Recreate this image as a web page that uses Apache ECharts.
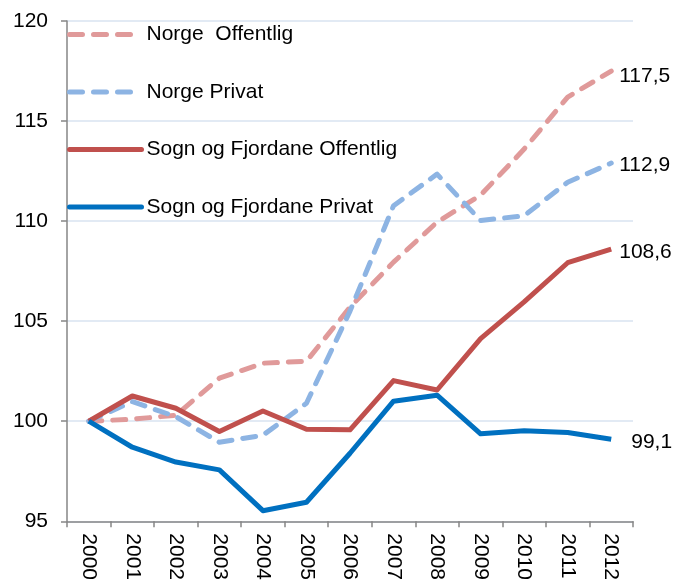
<!DOCTYPE html>
<html>
<head>
<meta charset="utf-8">
<script src="https://cdn.jsdelivr.net/npm/echarts@6/dist/echarts.min.js"></script>
<style>
  html, body { margin: 0; padding: 0; background: #fff; }
  #chart { width: 675px; height: 583px; }
</style>
</head>
<body>
<div id="chart"></div>
<script>
let years = ['2000', '2001', '2002', '2003', '2004', '2005', '2006', '2007', '2008', '2009', '2010', '2011', '2012'];
let seriesNames = ['Norge  Offentlig', 'Norge Privat', 'Sogn og Fjordane Offentlig', 'Sogn og Fjordane Privat'];

let norgeOffentlig = [100, 100.1, 100.3, 102.15, 102.9, 103.0, 105.7, 107.95, 109.95, 111.3, 113.6, 116.2, 117.5];
let norgePrivat = [100, 100.98, 100.23, 98.95, 99.3, 100.9, 105.5, 110.77, 112.35, 110.03, 110.27, 111.94, 112.9];
let sfOffentlig = [100, 101.26, 100.65, 99.49, 100.51, 99.6, 99.57, 102.03, 101.56, 104.13, 105.96, 107.92, 108.6];
let sfPrivat = [100, 98.7, 97.96, 97.57, 95.53, 95.95, 98.4, 101.0, 101.3, 99.37, 99.52, 99.44, 99.1];

let yMin = 95;
let yMax = 120;
let yStep = 5;

let FONT = 'Liberation Sans, Arial, sans-serif';
let FS = 21;

function makeSeries(name, values, color, dashed, labelOffset) {
	return {
		name: name,
		type: 'line',
		data: values,
		symbol: 'none',
		smooth: false,
		lineStyle: {
			color: color,
			width: 5,
			type: dashed ? [13, 11] : 'solid',
			cap: dashed ? 'round' : 'butt',
			join: 'round'
		},
		itemStyle: { color: color },
		endLabel: {
			show: true,
			distance: 8,
			offset: labelOffset,
			color: '#000',
			fontSize: FS,
			fontFamily: FONT,
			formatter: p => String(p.value).replace('.', ',')
		},
		emphasis: { disabled: true }
	};
}

let myChart = echarts.init(document.getElementById('chart'));

let option = {
	animation: false,
	backgroundColor: '#fff',
	grid: {
		left: 67,
		right: 42,
		top: 21,
		bottom: 60,
		containLabel: false
	},
	legend: {
		orient: 'vertical',
		left: 62,
		top: 19,
		itemWidth: 72,
		itemHeight: 14,
		itemGap: 36.5,
		itemStyle: { opacity: 0 },
		lineStyle: { width: 5, cap: 'round' },
		textStyle: {
			color: '#000',
			fontSize: FS,
			fontFamily: FONT
		},
		data: seriesNames
	},
	xAxis: {
		type: 'category',
		data: years,
		boundaryGap: true,
		axisLine: { lineStyle: { color: '#868686', width: 1.5 } },
		axisTick: { show: true, length: 6, lineStyle: { color: '#868686', width: 1.5 } },
		axisLabel: {
			rotate: -90,
			margin: 12,
			color: '#000',
			fontSize: FS,
			fontFamily: FONT,
			interval: 0
		}
	},
	yAxis: {
		type: 'value',
		min: yMin,
		max: yMax,
		interval: yStep,
		axisLine: { show: true, lineStyle: { color: '#868686', width: 1.5 } },
		axisTick: { show: true, length: 6, lineStyle: { color: '#868686', width: 1.5 } },
		axisLabel: {
			margin: 19,
			color: '#000',
			fontSize: FS,
			fontFamily: FONT
		},
		splitLine: { show: true, lineStyle: { color: '#d9e3f1', width: 1.5 } }
	},
	series: [
		makeSeries(seriesNames[0], norgeOffentlig, '#e09a9a', true, [0, 5]),
		makeSeries(seriesNames[1], norgePrivat, '#8db4e3', true, [0, 2]),
		makeSeries(seriesNames[2], sfOffentlig, '#c0504d', false, [0, 3]),
		makeSeries(seriesNames[3], sfPrivat, '#0070c0', false, [12, 3])
	]
};

myChart.setOption(option);
</script>
</body>
</html>
